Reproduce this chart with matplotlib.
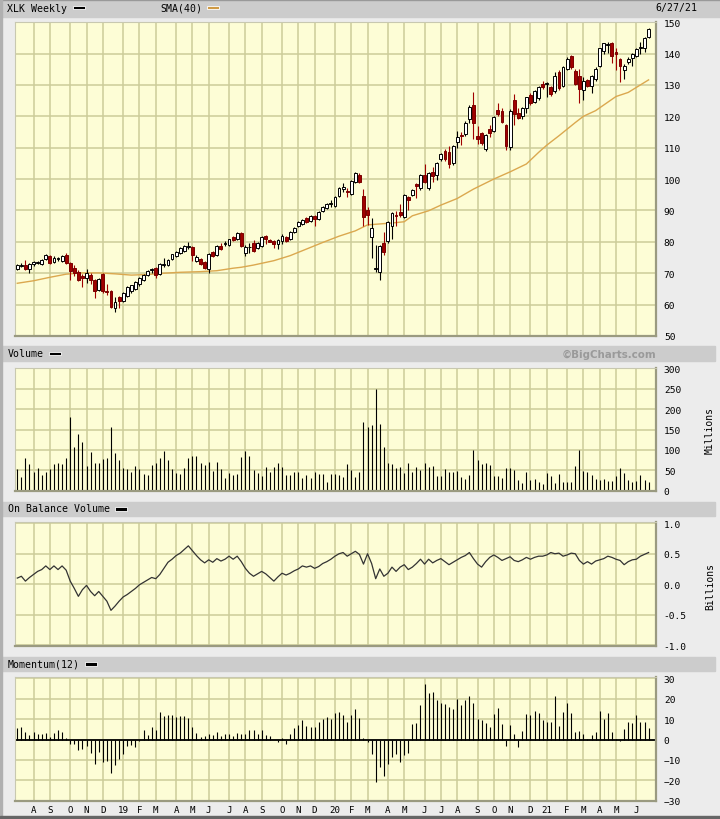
import numpy as np
import pandas as pd
import matplotlib
matplotlib.use('Agg')
import matplotlib.pyplot as plt
from matplotlib.patches import Rectangle

plt.rcParams['font.family'] = ['DejaVu Sans Mono']

# weekly bars, first week starts 2018-07-02
first_week = '2018-07-02'
n_weeks = 156

open_ = [71.5, 72.4, 72.6, 71.5, 73.0, 73.4, 73.0, 74.5, 75.5, 73.5,
         74.6, 74.0, 75.8, 73.2, 71.6, 70.4, 69.2, 68.5, 69.4, 67.8,
         64.6, 69.7, 64.2, 64.3, 58.9, 62.4, 61.1, 62.7, 64.3, 65.0,
         66.5, 67.8, 69.4, 71.0, 71.6, 69.7, 72.7, 72.6, 74.5, 75.5,
         76.5, 77.0, 78.5, 78.3, 74.0, 74.5, 73.6, 71.3, 76.7, 75.8,
         78.7, 79.4, 79.0, 81.5, 80.9, 82.8, 76.5, 78.2, 79.6, 78.0,
         78.8, 81.9, 80.7, 80.2, 79.3, 80.2, 81.6, 80.9, 83.0, 85.0,
         85.6, 87.5, 86.7, 88.2, 87.3, 89.9, 90.9, 92.1, 91.3, 94.7,
         96.8, 96.0, 95.2, 99.0, 101.3, 94.6, 90.1, 81.5, 71.5, 70.4,
         79.6, 80.4, 85.0, 88.4, 89.4, 88.0, 94.2, 94.9, 98.4, 97.0,
         101.3, 97.0, 102.3, 101.3, 106.4, 109.0, 108.5, 105.0, 111.7, 114.1,
         114.3, 119.1, 123.6, 113.8, 114.6, 109.5, 115.9, 115.4, 122.0, 121.8,
         117.2, 110.1, 125.3, 121.0, 120.0, 122.5, 126.8, 124.6, 125.7, 130.2,
         130.3, 129.2, 128.1, 134.2, 129.7, 135.0, 139.1, 134.5, 132.9, 128.5,
         131.6, 129.7, 131.8, 136.1, 140.9, 142.8, 143.3, 140.5, 138.2, 134.8,
         137.2, 138.7, 139.3, 141.7, 141.6, 145.4]

high_ = [73.0, 73.2, 74.2, 73.4, 73.8, 74.0, 74.6, 76.2, 75.8, 75.4,
         75.3, 75.8, 76.4, 73.6, 72.6, 71.0, 69.8, 71.5, 70.0, 68.2,
         68.6, 70.0, 66.6, 64.6, 62.5, 62.6, 63.9, 65.8, 66.4, 67.4,
         68.7, 69.6, 70.9, 71.6, 71.9, 73.2, 75.0, 74.4, 76.2, 77.0,
         78.3, 79.0, 80.0, 78.6, 75.8, 75.0, 74.0, 76.4, 77.0, 78.9,
         79.6, 80.2, 81.0, 82.0, 83.2, 83.0, 78.9, 79.6, 80.7, 79.9,
         81.8, 82.2, 81.0, 80.5, 81.0, 82.6, 81.9, 83.4, 84.8, 86.6,
         87.3, 87.8, 88.6, 88.5, 89.9, 91.4, 92.3, 93.2, 94.6, 97.4,
         98.6, 97.2, 99.8, 102.4, 101.8, 96.8, 91.0, 87.5, 79.0, 79.0,
         83.1, 86.6, 89.6, 89.7, 92.0, 95.3, 94.5, 96.9, 98.8, 101.6,
         104.8, 102.2, 104.0, 105.4, 108.3, 109.6, 110.5, 110.8, 115.4, 114.9,
         118.4, 123.5, 127.8, 117.0, 115.0, 114.3, 117.2, 120.2, 124.2, 122.5,
         117.6, 122.2, 127.2, 122.8, 123.0, 126.3, 127.4, 128.4, 129.5, 131.3,
         130.8, 129.6, 134.0, 134.6, 136.0, 138.8, 139.5, 135.0, 135.0, 132.6,
         132.0, 133.2, 135.6, 141.9, 143.5, 143.6, 143.7, 141.9, 138.6, 136.6,
         138.8, 140.3, 141.6, 143.7, 145.4, 148.0]

low_ = [71.0, 72.0, 71.0, 70.0, 72.4, 72.8, 72.6, 74.2, 73.0, 73.2,
        74.0, 73.6, 73.0, 68.0, 69.0, 67.6, 65.6, 67.0, 66.7, 62.0,
        64.2, 63.8, 63.0, 58.8, 57.5, 59.0, 60.8, 62.4, 63.8, 64.6,
        66.0, 67.4, 69.0, 70.2, 68.6, 69.4, 72.0, 72.3, 74.2, 75.2,
        76.2, 76.8, 77.6, 74.0, 73.6, 72.6, 71.2, 70.0, 75.2, 75.5,
        77.5, 78.6, 78.8, 80.2, 80.6, 78.2, 75.5, 76.4, 76.8, 77.6,
        78.5, 79.3, 79.8, 77.9, 77.6, 79.3, 80.0, 80.6, 82.7, 84.7,
        85.3, 86.0, 86.4, 85.0, 87.0, 89.6, 90.6, 91.0, 91.0, 94.4,
        96.0, 94.4, 94.8, 98.7, 98.8, 85.0, 85.5, 75.0, 70.4, 67.9,
        75.8, 79.6, 81.0, 85.2, 88.0, 87.7, 90.0, 94.5, 94.0, 96.6,
        98.6, 96.6, 99.0, 99.6, 105.8, 105.6, 103.5, 104.5, 110.0, 110.8,
        113.8, 117.8, 112.7, 111.1, 110.8, 108.9, 113.5, 115.0, 120.0, 117.9,
        109.3, 109.3, 117.2, 119.2, 119.2, 121.0, 123.6, 124.2, 125.3, 128.8,
        126.0, 126.6, 127.5, 128.5, 129.2, 134.6, 135.2, 130.0, 124.2, 125.3,
        129.2, 127.4, 131.4, 135.8, 139.8, 140.3, 137.0, 134.8, 130.8, 131.8,
        136.7, 136.1, 138.9, 139.8, 140.6, 145.0]

close_ = [72.6, 72.7, 71.5, 73.0, 73.5, 73.6, 74.2, 75.8, 73.3, 75.0,
          74.8, 75.5, 73.3, 70.7, 70.0, 67.9, 68.5, 70.0, 67.8, 64.3,
          68.2, 64.3, 64.0, 59.2, 60.9, 61.3, 63.7, 65.6, 66.2, 67.2,
          68.5, 69.4, 70.7, 71.3, 69.4, 73.0, 72.9, 74.2, 76.0, 76.7,
          78.0, 78.6, 78.7, 75.8, 75.2, 73.0, 71.7, 76.0, 75.5, 78.6,
          77.8, 79.6, 80.8, 80.5, 82.8, 78.7, 78.5, 78.3, 77.1, 79.6,
          81.5, 80.9, 80.0, 79.3, 80.7, 81.9, 80.3, 83.1, 84.5, 86.3,
          87.0, 86.4, 88.3, 87.3, 89.6, 91.1, 92.0, 92.3, 94.3, 97.1,
          97.5, 95.9, 99.5, 101.9, 99.1, 88.0, 88.6, 84.4, 71.7, 78.7,
          76.8, 86.4, 89.2, 88.1, 88.5, 95.0, 93.4, 96.6, 97.7, 101.3,
          99.1, 101.9, 101.0, 105.0, 107.9, 106.4, 104.8, 110.5, 113.4, 113.8,
          117.8, 123.1, 117.8, 112.7, 111.5, 114.0, 114.6, 119.9, 120.7, 118.3,
          110.6, 121.8, 120.7, 119.6, 122.8, 126.0, 124.2, 128.1, 129.2, 129.2,
          130.6, 127.0, 132.7, 128.9, 135.6, 138.4, 135.6, 130.3, 128.7, 131.3,
          129.7, 132.7, 135.2, 141.6, 143.3, 143.0, 139.3, 139.8, 135.9, 135.9,
          138.4, 139.8, 141.4, 142.0, 145.1, 147.8]

# SMA(40) at some weeks
sma_week = [0, 4, 8, 12, 16, 20, 24, 28, 32, 36, 40, 45, 49, 53, 55, 58, 63, 67,
            71, 75, 79, 83, 86, 89, 92, 95, 97, 101, 104, 108, 112, 117, 121,
            125, 128, 130, 133, 137, 139, 142, 144, 147, 150, 152, 155]
sma_val = [66.8, 67.6, 68.7, 69.7, 70.1, 70.1, 69.8, 69.4, 69.6, 70.0, 70.3, 70.5,
           70.8, 71.6, 71.9, 72.6, 74.0, 75.6, 77.7, 79.8, 81.8, 83.5, 85.4, 85.7,
           86.0, 86.4, 88.3, 89.9, 91.7, 93.8, 96.8, 100.0, 102.3, 104.8, 108.5,
           110.8, 113.8, 118.0, 120.0, 121.8, 123.6, 126.3, 127.6, 129.2, 131.6]

# volume, millions
volume = [53, 34, 80, 65, 47, 56, 39, 47, 53, 65, 69, 65, 80, 181, 107, 139, 119, 60, 94, 68,
          68, 78, 80, 156, 92, 75, 56, 53, 46, 60, 53, 41, 38, 63, 68, 80, 97, 75, 53, 43,
          41, 56, 80, 85, 85, 68, 63, 70, 48, 70, 53, 31, 43, 38, 41, 83, 97, 85, 51, 43,
          36, 58, 46, 58, 68, 58, 38, 38, 46, 46, 31, 38, 31, 46, 41, 41, 21, 41, 41, 38,
          34, 65, 51, 34, 46, 169, 157, 161, 249, 163, 106, 69, 65, 56, 58, 43, 68, 46, 58, 51,
          68, 58, 60, 36, 36, 53, 46, 46, 48, 34, 29, 38, 100, 75, 65, 68, 63, 36, 36, 31,
          56, 56, 51, 26, 19, 46, 26, 29, 21, 16, 43, 36, 19, 41, 21, 21, 21, 60, 100, 48,
          46, 38, 29, 26, 29, 24, 24, 36, 56, 43, 26, 21, 24, 38, 26, 21]

# on balance volume, billions
obv = [0.10, 0.13, 0.05, 0.11, 0.16, 0.21, 0.24, 0.30, 0.24, 0.30,
       0.24, 0.30, 0.23, 0.05, -0.07, -0.20, -0.09, -0.02, -0.12, -0.19,
       -0.12, -0.20, -0.28, -0.43, -0.36, -0.28, -0.21, -0.17, -0.12, -0.07,
       -0.01, 0.03, 0.07, 0.11, 0.09, 0.16, 0.26, 0.36, 0.41, 0.47,
       0.51, 0.57, 0.63, 0.55, 0.47, 0.40, 0.35, 0.40, 0.36, 0.42,
       0.38, 0.41, 0.46, 0.41, 0.46, 0.37, 0.26, 0.18, 0.13, 0.17,
       0.21, 0.17, 0.11, 0.05, 0.12, 0.18, 0.15, 0.18, 0.22, 0.25,
       0.30, 0.28, 0.30, 0.26, 0.29, 0.34, 0.37, 0.41, 0.46, 0.50,
       0.52, 0.46, 0.50, 0.54, 0.49, 0.33, 0.50, 0.34, 0.09, 0.25,
       0.13, 0.18, 0.28, 0.21, 0.28, 0.32, 0.24, 0.28, 0.34, 0.41,
       0.33, 0.41, 0.35, 0.39, 0.42, 0.37, 0.32, 0.36, 0.40, 0.44,
       0.47, 0.52, 0.42, 0.33, 0.28, 0.37, 0.44, 0.48, 0.44, 0.39,
       0.42, 0.45, 0.39, 0.37, 0.40, 0.44, 0.41, 0.44, 0.46, 0.46,
       0.48, 0.52, 0.50, 0.51, 0.46, 0.48, 0.51, 0.50, 0.39, 0.33,
       0.37, 0.33, 0.38, 0.40, 0.42, 0.46, 0.44, 0.41, 0.39, 0.32,
       0.37, 0.40, 0.41, 0.46, 0.49, 0.52]

# momentum(12)
momentum = [5.6, 6.0, 3.8, 2.3, 3.8, 2.9, 2.6, 3.3, 1.3, 3.4,
            4.6, 3.8, 0.7, -2.3, -2.0, -5.0, -4.6, -3.3, -6.5, -11.9,
            -6.0, -10.8, -10.5, -16.3, -12.3, -9.5, -7.0, -3.1, -2.9, -3.6,
            -0.7, 4.9, 2.3, 6.0, 4.6, 13.6, 11.4, 11.8, 11.9, 11.1,
            11.3, 11.4, 10.5, 6.2, 3.4, 1.3, 1.8, 2.6, 2.3, 3.6,
            1.6, 2.6, 2.6, 1.6, 3.1, 2.6, 2.9, 4.6, 4.6, 2.6,
            4.6, 2.1, 1.8, -0.3, -1.0, 0.5, -2.0, 2.9, 5.6, 7.0,
            9.5, 6.7, 6.2, 6.2, 8.5, 10.3, 11.1, 10.0, 12.9, 13.4,
            11.9, 8.7, 11.9, 14.9, 10.5, 0.8, -1.0, -6.9, -20.6, -13.7,
            -17.8, -12.1, -8.5, -6.9, -10.8, -7.5, -6.5, 7.5, 8.3, 16.8,
            27.1, 23.0, 23.5, 19.3, 18.0, 17.3, 16.0, 14.9, 19.8, 16.8,
            19.3, 21.1, 18.1, 10.0, 9.5, 8.2, 6.2, 12.7, 15.4, 7.5,
            -3.1, 7.0, 2.6, -3.6, 4.1, 12.4, 11.9, 13.9, 13.2, 9.5,
            8.8, 8.5, 21.2, 6.5, 13.4, 17.8, 12.9, 3.9, 4.1, 2.6,
            0.3, 2.3, 3.9, 13.9, 10.0, 12.9, 3.6, 0.3, -0.7, 5.1,
            8.8, 8.0, 11.9, 8.8, 8.8, 5.6]

month_labels = ['A', 'S', 'O', 'N', 'D', '19', 'F', 'M', 'A', 'M', 'J', 'J',
                'A', 'S', 'O', 'N', 'D', '20', 'F', 'M', 'A', 'M', 'J', 'J',
                'A', 'S', 'O', 'N', 'D', '21', 'F', 'M', 'A', 'M', 'J']

# month gridlines: the week (Mon-Sun) holding the 1st of the month
weeks = pd.date_range(first_week, periods=n_weeks, freq='7D')
sundays = weeks + pd.Timedelta(days=6)
month_ticks = [i for i in range(1, n_weeks) if sundays[i].month != sundays[i - 1].month]

idx = np.arange(n_weeks)
o = np.array(open_)
h = np.array(high_)
l = np.array(low_)
c = np.array(close_)

BG = '#ececec'
HEAD = '#cccccc'
PLOT = '#fdfdd6'
GRID = '#cccc99'
RED = '#a00000'

fig = plt.figure(figsize=(7.2, 8.2), dpi=100, facecolor=BG)

# pixel-coordinate layer for the frame, headers and labels
bg = fig.add_axes([0, 0, 1, 1])
bg.set_xlim(0, 720)
bg.set_ylim(820, 0)
bg.axis('off')
bg.add_patch(Rectangle((0, 0), 720, 18, color=HEAD))
bg.add_patch(Rectangle((0, 0), 720, 1, color='#999999'))
bg.add_patch(Rectangle((2, 347), 713, 15, color=HEAD))
bg.add_patch(Rectangle((2, 503), 713, 14, color=HEAD))
bg.add_patch(Rectangle((2, 658), 713, 14, color=HEAD))
bg.add_patch(Rectangle((0, 0), 2, 820, color='#b0b0b0'))
bg.add_patch(Rectangle((0, 817), 720, 3, color='#666666'))

hfont = dict(fontsize=7.15, va='center', ha='left', color='black')
bg.text(7, 8.5, 'XLK Weekly', **hfont)
bg.add_patch(Rectangle((72.5, 6.5), 12, 3.8, facecolor='black', edgecolor='white', lw=0.6))
bg.text(160.5, 8.5, 'SMA(40)', **hfont)
bg.add_patch(Rectangle((207, 6.5), 12, 3.8, facecolor='#cf9a45', edgecolor='white', lw=0.6))
bg.text(697, 8.5, '6/27/21', fontsize=7.15, va='center', ha='right')
bg.text(7.5, 354.5, 'Volume', **hfont)
bg.add_patch(Rectangle((48.5, 352.5), 12, 3.8, facecolor='black', edgecolor='white', lw=0.6))
bg.text(656, 354.5, '\u00a9BigCharts.com', family='DejaVu Sans', fontweight='bold',
        fontsize=7.4, color='#9a9a9a', va='center', ha='right')
bg.text(7.5, 509.5, 'On Balance Volume', **hfont)
bg.add_patch(Rectangle((114.5, 508), 12, 3.8, facecolor='black', edgecolor='white', lw=0.6))
bg.text(7.5, 664.5, 'Momentum(12)', **hfont)
bg.add_patch(Rectangle((85, 663), 12, 3.8, facecolor='black', edgecolor='white', lw=0.6))
bg.text(710, 431, 'Millions', rotation=90, fontsize=7, va='center', ha='center')
bg.text(710, 587, 'Billions', rotation=90, fontsize=7, va='center', ha='center')


def panel(y0, y1):
    ax = fig.add_axes([15 / 720, 1 - y1 / 820, 640.5 / 720, (y1 - y0) / 820])
    ax.set_facecolor(PLOT)
    ax.set_xlim(-0.56, 156.7)
    ax.set_xticks(month_ticks)
    ax.set_xticklabels([])
    ax.grid(True, color=GRID, lw=1.1)
    ax.set_axisbelow(True)
    ax.yaxis.tick_right()
    ax.tick_params(axis='both', length=0, labelsize=6.8, pad=6)
    for side in ['left', 'top']:
        ax.spines[side].set_color('#c8c8b0')
        ax.spines[side].set_linewidth(0.8)
    for side in ['right', 'bottom']:
        ax.spines[side].set_color('#9a9a80')
        ax.spines[side].set_linewidth(1.6)
    return ax


# price panel
ax1 = panel(22.5, 337)
ax1.set_ylim(50, 150.2)
ax1.set_yticks(range(50, 151, 10))
up = c >= o
dn = ~up
ax1.vlines(idx[up], l[up], h[up], color='black', lw=0.8, zorder=2)
ax1.vlines(idx[dn], l[dn], h[dn], color=RED, lw=0.8, zorder=2)
body = np.maximum(np.abs(c - o), 0.15)
ax1.bar(idx[up], body[up], bottom=np.minimum(o, c)[up], width=0.7,
        facecolor='white', edgecolor='black', lw=0.7, zorder=3)
ax1.bar(idx[dn], body[dn], bottom=np.minimum(o, c)[dn], width=0.7,
        facecolor=RED, edgecolor='#7a0000', lw=0.7, zorder=3)
ax1.plot(sma_week, sma_val, color='#dba84f', lw=1.0, zorder=1.5)

# volume panel
ax2 = panel(368.5, 492)
ax2.set_ylim(-0.7, 302)
ax2.set_yticks(range(0, 301, 50))
ax2.vlines(idx, 0, volume, color='black', lw=0.8)

# on balance volume panel
ax3 = panel(522.5, 646.5)
ax3.set_ylim(-1.008, 1.03)
ax3.set_yticks([-1.0, -0.5, 0.0, 0.5, 1.0])
ax3.set_yticklabels(['-1.0', '-0.5', '0.0', '0.5', '1.0'])
ax3.plot(idx, obv, color='#333333', lw=0.9)

# momentum panel
ax4 = panel(677.5, 801.7)
ax4.set_ylim(-30, 30.9)
ax4.set_yticks(range(-30, 31, 10))
ax4.vlines(idx, 0, momentum, color='black', lw=0.8)
ax4.axhline(0, color='black', lw=1.3)
ax4.set_xticklabels(month_labels)
ax4.tick_params(axis='x', pad=3, labelsize=6.6)

fig.savefig('out.png', dpi=100, facecolor=BG)
